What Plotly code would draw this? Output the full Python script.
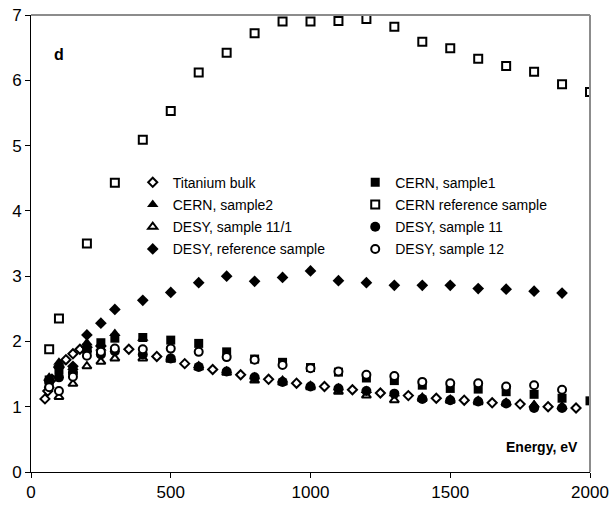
import plotly.graph_objects as go

# ---------------- data ----------------
E_ti = [50, 60, 75, 100, 125, 150, 175, 200, 250, 350, 450, 550, 650, 750, 850,
        950, 1050, 1150, 1250, 1350, 1450, 1550, 1650, 1750, 1850, 1950]
ti_bulk = [1.12, 1.24, 1.42, 1.60, 1.72, 1.81, 1.88, 1.91, 1.93, 1.88, 1.77, 1.66, 1.57,
           1.49, 1.42, 1.36, 1.31, 1.26, 1.21, 1.17, 1.13, 1.10, 1.06, 1.04, 1.00, 0.98]

E = [65, 100, 150, 200, 250, 300, 400, 500, 600, 700, 800, 900, 1000, 1100, 1200,
     1300, 1400, 1500, 1600, 1700, 1800, 1900]
E_cern1 = E + [2000]
cern1 = [1.41, 1.56, 1.55, 1.90, 1.98, 2.05, 2.06, 2.02, 1.97, 1.84, 1.73, 1.68, 1.60,
         1.53, 1.44, 1.40, 1.33, 1.28, 1.27, 1.23, 1.19, 1.13, 1.09]
cern2 = [1.45, 1.68, 1.60, 1.98, 1.90, 2.12, 2.05, 1.75, 1.63, 1.55, 1.46, 1.41, 1.33,
         1.29, 1.25, 1.20, 1.15, 1.12, 1.10, 1.07, 1.03, 1.01]
E_ref = [65, 100, 200, 300, 400, 500, 600, 700, 800, 900, 1000, 1100, 1200, 1300,
         1400, 1500, 1600, 1700, 1800, 1900, 2000]
cern_ref = [1.88, 2.35, 3.50, 4.43, 5.09, 5.53, 6.12, 6.42, 6.72, 6.90, 6.90, 6.91,
            6.94, 6.82, 6.59, 6.49, 6.33, 6.22, 6.13, 5.94, 5.82]
desy_11_1 = [1.32, 1.15, 1.35, 1.62, 1.69, 1.74, 1.74, 1.72, 1.60, 1.52, 1.40, 1.37,
             1.30, 1.23, 1.17, 1.10, 1.12, 1.09, 1.07, 1.05, 1.02, 0.99]
desy_11 = [1.38, 1.45, 1.52, 1.85, 1.80, 1.85, 1.80, 1.74, 1.61, 1.54, 1.45, 1.38,
           1.31, 1.28, 1.24, 1.20, 1.12, 1.10, 1.08, 1.05, 0.98, 0.98]
desy_ref = [1.40, 1.62, 1.62, 2.10, 2.28, 2.49, 2.63, 2.75, 2.90, 3.00, 2.92, 2.98,
            3.08, 2.93, 2.90, 2.86, 2.86, 2.86, 2.81, 2.80, 2.77, 2.74]
desy_12 = [1.30, 1.24, 1.46, 1.78, 1.84, 1.89, 1.88, 1.89, 1.84, 1.76, 1.72, 1.64,
           1.59, 1.54, 1.49, 1.47, 1.38, 1.36, 1.36, 1.31, 1.33, 1.26]

x_ticks = [0, 500, 1000, 1500, 2000]
y_ticks = [0, 1, 2, 3, 4, 5, 6, 7]

FONT = "Liberation Sans, Arial, sans-serif"

fig = go.Figure()


def add(x, y, name, symbol, fill, legend, size):
    fig.add_trace(go.Scatter(
        x=x, y=y, name=name, mode="markers", legend=legend, legendgroup=name,
        marker=dict(symbol=symbol, size=size, color=fill,
                    line=dict(color="black", width=2 if fill == "white" else 0)),
    ))


add(E_ti, ti_bulk, "Titanium bulk", "diamond", "white", "legend", 7)
add(E_cern1, cern1, "CERN, sample1", "square", "black", "legend2", 9)
add(E, cern2, "CERN, sample2", "triangle-up", "black", "legend", 10)
add(E_ref, cern_ref, "CERN reference sample", "square", "white", "legend2", 8)
add(E, desy_11_1, "DESY, sample 11/1", "triangle-up", "white", "legend", 8)
add(E, desy_11, "DESY, sample 11", "circle", "black", "legend2", 10)
add(E, desy_ref, "DESY, reference sample", "diamond", "black", "legend", 9)
add(E, desy_12, "DESY, sample 12", "circle", "white", "legend2", 8)

axis_common = dict(showgrid=False, zeroline=False, showline=True, linecolor="black",
                   linewidth=1, ticks="outside", ticklen=5, tickcolor="black",
                   automargin=False,
                   tickfont=dict(family=FONT, size=17, color="black"))

leg_common = dict(xanchor="left", yanchor="top", bgcolor="rgba(0,0,0,0)",
                  font=dict(family=FONT, size=14, color="black"),
                  tracegroupgap=1, traceorder="grouped", borderwidth=0)

fig.update_layout(
    width=611, height=509,
    margin=dict(l=31, r=21, t=15, b=37, autoexpand=False),
    paper_bgcolor="white", plot_bgcolor="white",
    font=dict(family=FONT, color="black"),
    xaxis=dict(range=[0, 2000], tickvals=x_ticks, **axis_common),
    yaxis=dict(range=[0, 7], tickvals=y_ticks, **axis_common),
    xaxis2=dict(range=[0, 2000], overlaying="x", anchor="y", side="bottom",
                tickvals=x_ticks, ticks="inside", ticklen=5, tickcolor="black",
                automargin=False,
                showticklabels=False, showgrid=False, zeroline=False, showline=False),
    yaxis2=dict(range=[0, 7], overlaying="y", anchor="x", side="left",
                tickvals=y_ticks, ticks="inside", ticklen=5, tickcolor="black",
                automargin=False,
                showticklabels=False, showgrid=False, zeroline=False, showline=False),
    legend=dict(x=0.182, y=0.668, **leg_common),
    legend2=dict(x=0.580, y=0.668, **leg_common),
    shapes=[
        dict(type="line", xref="paper", yref="paper", x0=0, x1=1, y0=1, y1=1,
             line=dict(color="#8c8c8c", width=2)),
        dict(type="line", xref="paper", yref="paper", x0=1, x1=1, y0=0, y1=1,
             line=dict(color="#8c8c8c", width=2)),
    ],
    annotations=[
        dict(text="<b>d</b>", xref="paper", yref="paper", x=0.0376, y=0.936,
             showarrow=False, font=dict(family=FONT, size=16, color="black")),
        dict(text="<b>Energy, eV</b>", xref="paper", yref="paper", x=0.982, y=0.0547,
             xanchor="right", yanchor="middle", showarrow=False,
             font=dict(family=FONT, size=14, color="black")),
    ],
)

fig.write_html("out.html")
